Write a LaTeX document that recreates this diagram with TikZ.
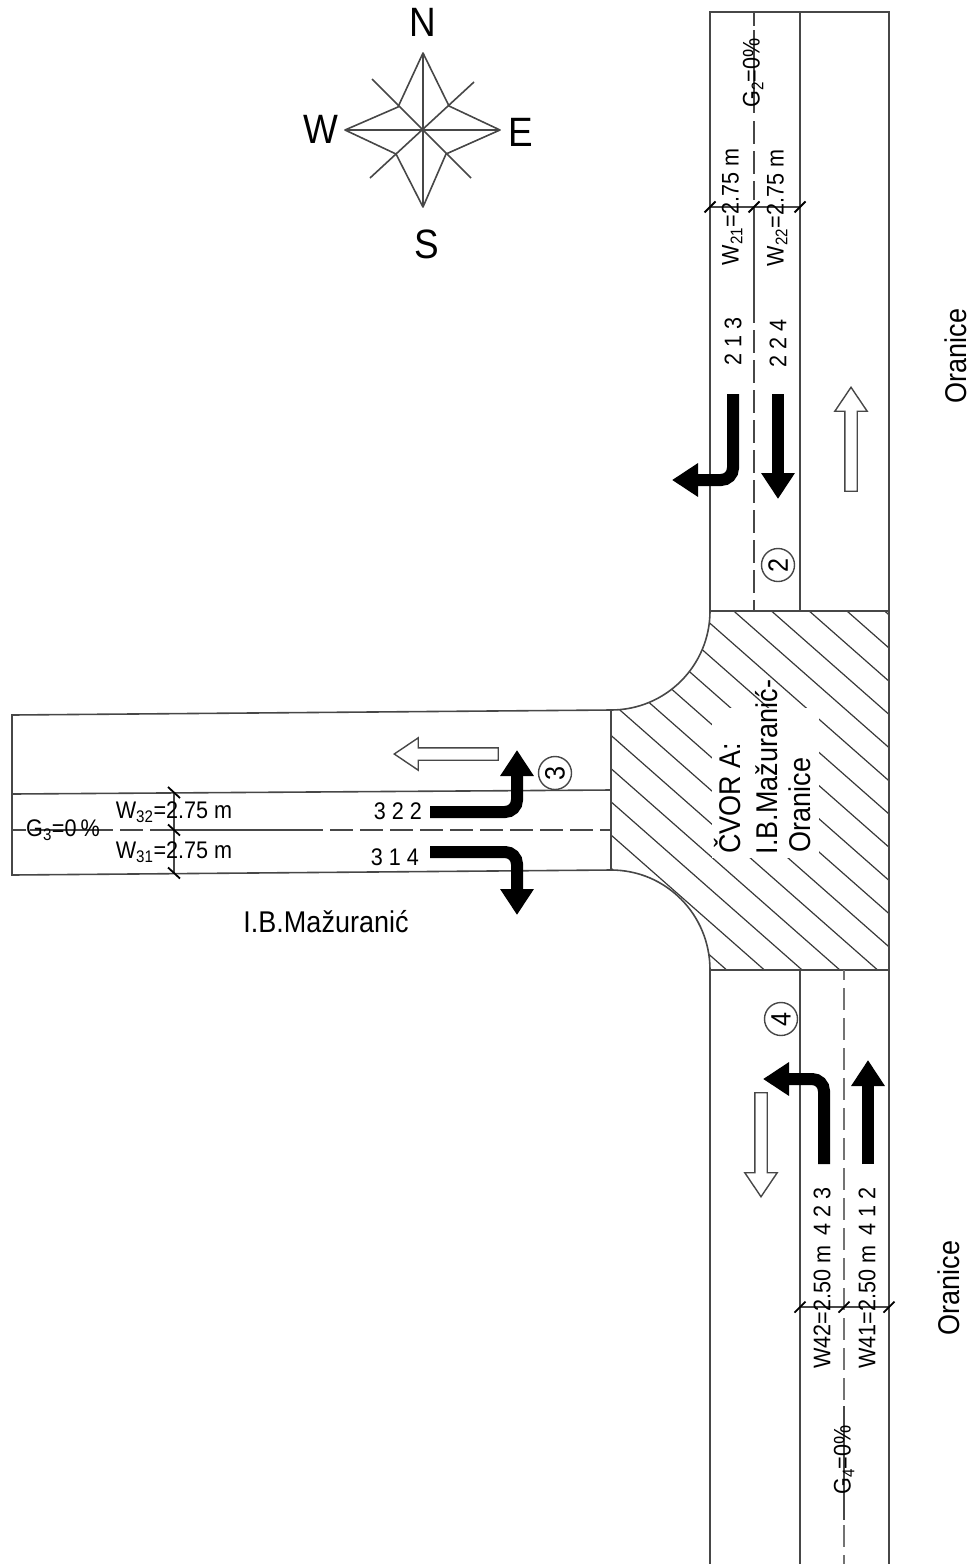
\documentclass[tikz,border=0pt]{standalone}
\usepackage{fontspec}
\setmainfont[FakeStretch=0.9]{Liberation Sans}
\usetikzlibrary{arrows.meta,shapes.arrows}
\tikzset{
  roadline/.style={draw=black!72, line width=1.6pt},
  medianline/.style={draw=black!72, line width=1.4pt, dash pattern=on 23pt off 7pt},
  graymedian/.style={draw=black!55, line width=1.9pt, dash pattern=on 22pt off 8pt},
  hatching/.style={draw=black!78, line width=1.2pt},
  dimtick/.style={draw=black, line width=1.8pt},
  movearrow/.style={draw=black, line width=12pt, rounded corners=12pt, -{Triangle[length=26pt,width=32pt]}},
  flowarrow/.style={single arrow, draw=black!72, line width=1.4pt, fill=white, anchor=tip, inner xsep=0pt, inner ysep=5.5pt,
    minimum height=104pt, minimum width=31pt, single arrow head extend=10pt, single arrow head indent=0pt,
    single arrow tip angle=68},
  smalltext/.style={inner sep=0pt, font=\fontsize{24}{26}\selectfont},
  bigtext/.style={inner sep=0pt, font=\fontsize{30}{32}\selectfont},
  compasstext/.style={inner sep=0pt, font=\fontsize{41}{43}\selectfont},
  approach/.style={circle, draw=black!72, line width=1.4pt, inner sep=0pt, minimum size=33pt, font=\fontsize{28}{30}\selectfont}
}
\begin{document}
\begin{tikzpicture}[x=1pt, y=-1pt]
\useasboundingbox (0,0) rectangle (971,1564);

% Junction hatching
\begin{scope}
  \clip (710,611) .. controls (710,665.7) and (665.7,710) .. (611,710) -- (611,870)
    .. controls (665.7,870) and (710,914.3) .. (710,970) -- (889,970) -- (889,611) -- cycle;
  \foreach \k in {-1,...,14}
    \draw[hatching] (600,{0.88*600-134.3+33.2*\k}) -- (900,{0.88*900-134.3+33.2*\k});
\end{scope}
\fill[white] (712,708) rectangle (819,858);

% Junction outline
\draw[roadline] (710,611) -- (889,611) -- (889,970) -- (710,970);
\draw[roadline] (710,611) .. controls (710,665.7) and (665.7,710) .. (611,710);
\draw[roadline] (611,870) .. controls (665.7,870) and (710,914.3) .. (710,970);

% Road 2
\draw[roadline] (710,611) -- (710,12) -- (889,12) -- (889,611);
\draw[roadline] (800,12) -- (800,611);
\draw[medianline] (754,12) -- (754,26);
\draw[medianline] (754,121) -- (754,200);
\draw[medianline] (754,300) -- (754,611);
\draw[roadline] (754,30) -- (754,113);
\draw[roadline] (754,207) -- (754,310);
\draw[roadline] (710,207) -- (800,207);
\foreach \x in {710,754,800}
  \draw[dimtick] ({\x-5.5},212.5) -- ({\x+5.5},201.5);

% Road 3
\draw[roadline] (611,710) -- (12,715) -- (12,875) -- (611,870) -- cycle;
\draw[roadline] (12,794) -- (611,790);
\draw[medianline] (12,830) -- (26,830);
\draw[medianline] (120,830) -- (175,830);
\draw[medianline] (300,830) -- (611,830);
\draw[roadline] (30,830) -- (113,830);
\draw[roadline] (174,830) -- (300,830);
\draw[roadline] (174,792) -- (174,873);
\foreach \y in {792.5,830,873}
  \draw[dimtick] (168,{\y-5.5}) -- (180,{\y+5.5});

% Road 4
\draw[roadline] (710,970) -- (710,1564);
\draw[roadline] (800,970) -- (800,1564);
\draw[roadline] (889,970) -- (889,1564);
\draw[graymedian, dash phase=12pt] (844,970) -- (844,1400);
\draw[graymedian] (844,1525) -- (844,1564);
\draw[roadline] (844,1406) -- (844,1520);
\draw[roadline] (800,1307) -- (889,1307);
\foreach \x in {800,844,889}
  \draw[dimtick] ({\x-5.5},1312.5) -- ({\x+5.5},1301.5);

% Movements
\draw[movearrow] (733,394) -- (733,480) -- (672,480);
\draw[movearrow] (778,394) -- (778,499);
\draw[movearrow] (430,812) -- (517,812) -- (517,750);
\draw[movearrow] (430,852) -- (517,852) -- (517,915);
\draw[movearrow] (824,1164) -- (824,1079) -- (763,1079);
\draw[movearrow] (868,1164) -- (868,1060);

% Traffic direction
\node (flow-2) [flowarrow, rotate=90] at (851,386) {};
\node (flow-3) [flowarrow, rotate=180] at (393,754) {};
\node (flow-4) [flowarrow, rotate=270] at (761,1198) {};

% Approach numbers
\node (approach-2) at (778,565) [approach, rotate=90] {2};
\node (approach-3) at (555,773) [approach, rotate=90] {3};
\node (approach-4) at (781,1019) [approach, rotate=90] {4};

% Road 2 labels
\node (grade-2) at (753,73) [smalltext, rotate=90] {G\textsubscript{2}=0\%};
\node (width-21) at (732,207) [smalltext, rotate=90] {W\textsubscript{21}=2.75 m};
\node (width-22) at (777,208) [smalltext, rotate=90] {W\textsubscript{22}=2.75 m};
\node (lane-213) at (733,341) [smalltext, rotate=90] {2 1 3};
\node (lane-224) at (778,343) [smalltext, rotate=90] {2 2 4};
\node (side-east) at (956,356) [bigtext, rotate=90] {Oranice};

% Road 3 labels
\node (grade-3) at (63,830) [smalltext] {G\textsubscript{3}=0\,\%};
\node (width-32) at (174,812) [smalltext] {W\textsubscript{32}=2.75 m};
\node (width-31) at (174,852) [smalltext] {W\textsubscript{31}=2.75 m};
\node (lane-322) at (398,811) [smalltext] {3 2 2};
\node (lane-314) at (395,857) [smalltext] {3 1 4};
\node (street-name) at (326,922) [bigtext] {I.B.Mažuranić};

% Road 4 labels
\node (grade-4) at (844,1460) [smalltext, rotate=90] {G\textsubscript{4}=0\%};
\node (width-42) at (822,1307) [smalltext, rotate=90] {W42=2.50 m};
\node (width-41) at (867,1307) [smalltext, rotate=90] {W41=2.50 m};
\node (lane-423) at (822,1211) [smalltext, rotate=90] {4 2 3};
\node (lane-412) at (867,1211) [smalltext, rotate=90] {4 1 2};
\node (side-south) at (949,1288) [bigtext, rotate=90] {Oranice};

% Junction name
\node (node-name) at (728,798) [bigtext, rotate=90] {ČVOR A:};
\node (node-road-1) at (767,767) [bigtext, rotate=90] {I.B.Mažuranić-};
\node (node-road-2) at (800,805) [bigtext, rotate=90] {Oranice};

% Compass
\draw[roadline, line join=round] (423,53) -- (449,106) -- (500,130) -- (446,154) -- (423,207) -- (396,154) -- (345,130) -- (398,107) -- cycle;
\draw[roadline] (423,53) -- (423,207);
\draw[roadline] (345,130) -- (500,130);
\draw[roadline] (372,79) -- (471,178);
\draw[roadline] (474,82) -- (370,178);
\node (north) at (423,22) [compasstext] {N};
\node (west) at (321,129) [compasstext] {W};
\node (east) at (521,132) [compasstext] {E};
\node (south) at (427,244) [compasstext] {S};
\end{tikzpicture}
\end{document}
